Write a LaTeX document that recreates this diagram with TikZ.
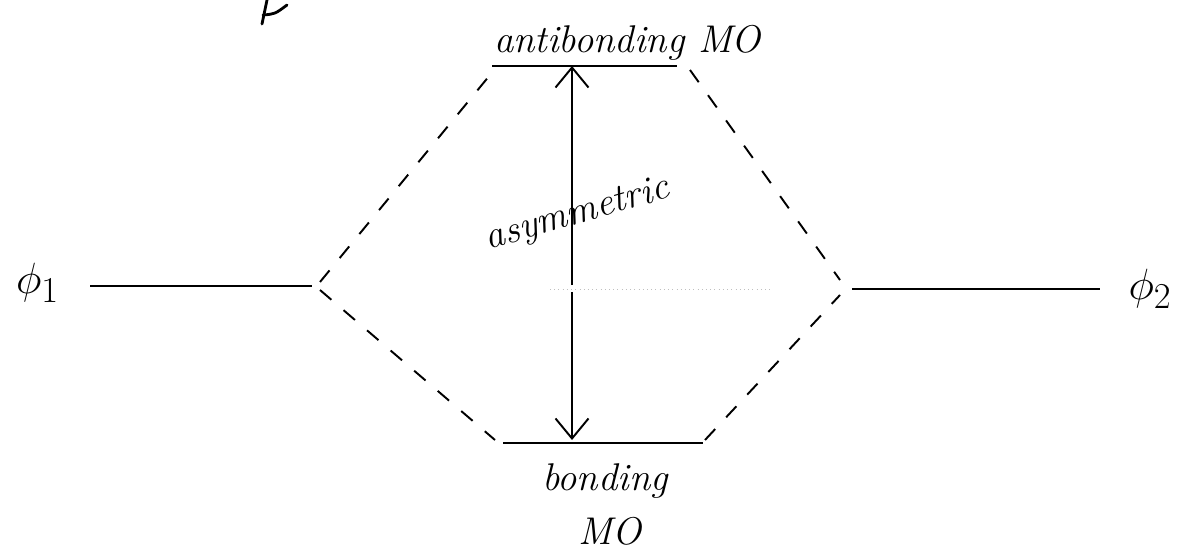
\documentclass[tikz,border=0pt]{standalone}
\usepackage{tikz}
\usetikzlibrary{arrows.meta,positioning,calc}

\begin{document}
\begin{tikzpicture}[>={Straight Barb[length=4mm,width=6.6mm]},
  level/.style={line width=1.3pt,black},
  link/.style={line width=1.1pt,dash pattern=on 0.3cm off 0.32cm},
  arr/.style={->,line width=1.1pt},
  lab/.style={font=\fontsize{22}{26}\selectfont\itshape,inner sep=1pt},
  orb/.style={font=\fontsize{28}{32}\selectfont,inner sep=1pt}]

\useasboundingbox (0,0) rectangle (23.68,11.08);

\coordinate (phiAl) at (1.80,5.36);
\coordinate (phiAr) at (6.24,5.36);
\coordinate (phiBl) at (17.04,5.30);
\coordinate (phiBr) at (22.00,5.30);
\coordinate (antil) at (9.84,9.76);
\coordinate (antir) at (13.54,9.76);
\coordinate (bondl) at (10.06,2.22);
\coordinate (bondr) at (14.06,2.22);
\coordinate (mid) at (11.44,5.31);

\draw[level] (phiAl)--(phiAr);
\draw[level] (phiBl)--(phiBr);
\draw[level] (antil)--(antir);
\draw[level] (bondl)--(bondr);

\node[orb] (phiA) at (0.75,5.42) {$\phi_1$};
\node[orb] (phiB) at (23.00,5.30) {$\phi_2$};

\draw[link] ($(phiAr)+(0.16,0.08)$)--($(antil)+(-0.04,-0.18)$);
\draw[link] ($(antir)+(0.26,-0.08)$)--($(phiBl)+(-0.24,0.18)$);
\draw[link] ($(phiAr)+(0.16,-0.08)$)--($(bondl)+(-0.16,0.06)$);
\draw[link] ($(bondr)+(0.04,0.06)$)--($(phiBl)+(-0.24,-0.12)$);

\draw[arr] ($(mid)+(0,0.07)$)--(mid|-antil);
\draw[arr] ($(mid)+(0,-0.07)$)--($(mid|-bondl)+(0,0.06)$);
\draw[gray!50,line width=0.4pt,dotted] (11.00,5.30)--(15.40,5.30);

\node[lab] (antitext) at (12.55,10.22) {antibonding MO};
\node[lab] (bondtext) at (12.10,1.45) {bonding};
\node[lab] (motext) at (12.20,0.45) {MO};
\node[lab,rotate=16] (asym) at (11.55,6.78) {asymmetric};

\draw[line width=1.6pt,line cap=round] (5.34,11.08) .. controls (5.30,10.85) .. (5.24,10.60);
\draw[line width=1.6pt,line cap=round] (5.26,10.78) .. controls (5.50,10.80) .. (5.74,10.98);
\end{tikzpicture}
\end{document}
